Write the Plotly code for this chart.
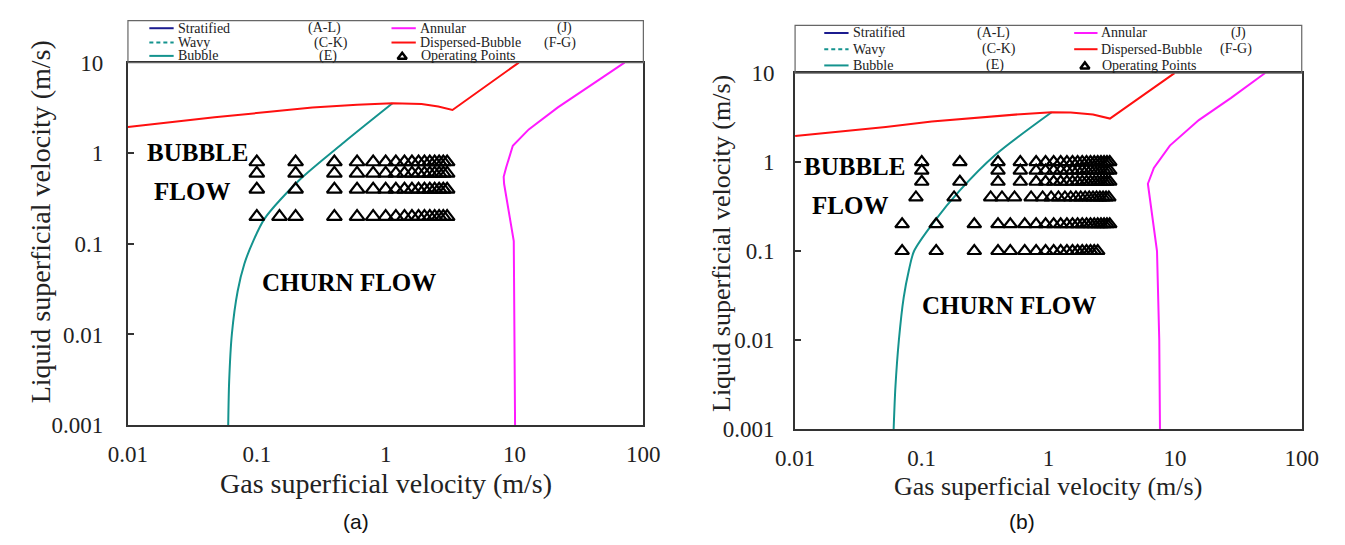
import plotly.graph_objects as go

W, H = 1345, 545
SERIF = "Liberation Serif"

# ---------------- panel (a) ----------------
a_bubble_x = [0.060, 0.061, 0.064, 0.071, 0.080, 0.094, 0.115, 0.212, 0.476, 1.13]
a_bubble_y = [0.001, 0.003, 0.01, 0.03, 0.06, 0.108, 0.19, 0.5, 1.32, 3.55]
a_disp_x = [0.01, 0.047, 0.12, 0.27, 0.6, 1.13, 1.9, 2.56, 3.3, 10.8]
a_disp_y = [1.95, 2.5, 2.84, 3.2, 3.42, 3.55, 3.5, 3.28, 3.0, 10]
a_annular_x = [10.1, 10.0, 9.87, 8.3, 8.24, 8.6, 9.7, 12.9, 21.7, 39, 71.4]
a_annular_y = [0.001, 0.01, 0.107, 0.46, 0.55, 0.69, 1.21, 1.83, 3.2, 5.6, 10]

a_op_rows = [0.8, 0.6, 0.4, 0.2]
a_op_x = [
    [0.1, 0.2, 0.4, 0.6, 0.8, 1.0, 1.2, 1.4, 1.6, 1.8, 2.0, 2.2, 2.4, 2.6, 2.8, 3.0],
    [0.1, 0.2, 0.4, 0.6, 0.8, 1.0, 1.2, 1.4, 1.6, 1.8, 2.0, 2.2, 2.4, 2.6, 2.8, 3.0],
    [0.1, 0.2, 0.4, 0.6, 0.8, 1.0, 1.2, 1.4, 1.6, 1.8, 2.0, 2.2, 2.4, 2.6, 2.8, 3.0],
    [0.1, 0.15, 0.2, 0.4, 0.6, 0.8, 1.0, 1.2, 1.4, 1.6, 1.8, 2.0, 2.2, 2.4, 2.6, 2.8, 3.0],
]

# ---------------- panel (b) ----------------
b_bubble_x = [0.060, 0.062, 0.066, 0.072, 0.079, 0.087, 0.124, 0.2, 0.38, 1.06]
b_bubble_y = [0.001, 0.003, 0.01, 0.03, 0.06, 0.1, 0.21, 0.48, 1.2, 3.63]
b_disp_x = [0.01, 0.052, 0.12, 0.3, 0.6, 1.06, 1.5, 2.25, 3.06, 9.9]
b_disp_y = [1.96, 2.47, 2.85, 3.2, 3.45, 3.63, 3.6, 3.43, 3.08, 10]
b_annular_x = [7.6, 7.5, 7.2, 6.3, 6.1, 6.8, 9.1, 15.4, 27.7, 51.4]
b_annular_y = [0.001, 0.01, 0.1, 0.4, 0.57, 0.86, 1.53, 2.96, 5.26, 10]

b_op_rows = [1.0, 0.8, 0.6, 0.4, 0.2, 0.1]
b_op_x = [
    [0.1, 0.2, 0.4, 0.6, 0.8, 0.95, 1.1, 1.25, 1.4, 1.55, 1.7, 1.85, 2.0, 2.15, 2.3, 2.45, 2.6, 2.75, 2.9, 3.05],
    [0.1, 0.4, 0.6, 0.8, 0.95, 1.1, 1.25, 1.4, 1.55, 1.7, 1.85, 2.0, 2.15, 2.3, 2.45, 2.6, 2.75, 2.9, 3.05],
    [0.1, 0.2, 0.4, 0.6, 0.8, 0.95, 1.1, 1.25, 1.4, 1.55, 1.7, 1.85, 2.0, 2.15, 2.3, 2.45, 2.6, 2.75, 2.9, 3.05],
    [0.09, 0.18, 0.35, 0.43, 0.54, 0.73, 0.9, 1.05, 1.2, 1.35, 1.5, 1.65, 1.8, 1.95, 2.1, 2.25, 2.4, 2.55, 2.7, 2.85, 3.0],
    [0.07, 0.13, 0.26, 0.4, 0.5, 0.65, 0.8, 0.95, 1.1, 1.25, 1.4, 1.55, 1.7, 1.85, 2.0, 2.15, 2.3, 2.45, 2.6, 2.75, 2.9, 3.05],
    [0.07, 0.13, 0.26, 0.4, 0.5, 0.65, 0.8, 0.95, 1.1, 1.25, 1.4, 1.55, 1.7, 1.85, 2.0, 2.15, 2.3, 2.45],
]

# ---------------- shared text ----------------
x_tickvals = [0.01, 0.1, 1, 10, 100]
x_ticktext = ["0.01", "0.1", "1", "10", "100"]
y_tickvals = [0.001, 0.01, 0.1, 1, 10]
y_ticktext = ["0.001", "0.01", "0.1", "1", "10"]
legend_names = ["Stratified", "Wavy", "Bubble", "Annular", "Dispersed-Bubble", "Operating Points"]
legend_codes = ["(A-L)", "(C-K)", "(E)", "(J)", "(F-G)", ""]

C_STRAT = "#1b1b8f"
C_TEAL = "#14938e"
C_MAG = "#ff1aff"
C_RED = "#ff1010"
line_colors = [C_STRAT, C_TEAL, C_TEAL, C_MAG, C_RED]


def flat(rows, xs):
    ox, oy = [], []
    for r, row in zip(rows, xs):
        ox += row
        oy += [r] * len(row)
    return ox, oy


fig = go.Figure()


def add_panel(xa, ya, bx, by, dx, dy, ax_, ay_, rows, opx, msize):
    fig.add_trace(go.Scatter(x=bx, y=by, mode="lines", xaxis=xa, yaxis=ya,
                             line=dict(color=C_TEAL, width=2, shape="spline", smoothing=0.8)))
    fig.add_trace(go.Scatter(x=dx, y=dy, mode="lines", xaxis=xa, yaxis=ya,
                             line=dict(color=C_RED, width=2)))
    fig.add_trace(go.Scatter(x=ax_, y=ay_, mode="lines", xaxis=xa, yaxis=ya,
                             line=dict(color=C_MAG, width=2)))
    ox, oy = flat(rows, opx)
    fig.add_trace(go.Scatter(x=ox, y=oy, mode="markers", xaxis=xa, yaxis=ya,
                             marker=dict(symbol="triangle-up-open", size=msize, color="black",
                                         line=dict(width=2.2, color="black"))))


add_panel("x", "y", a_bubble_x, a_bubble_y, a_disp_x, a_disp_y, a_annular_x, a_annular_y,
          a_op_rows, a_op_x, 13)
add_panel("x2", "y2", b_bubble_x, b_bubble_y, b_disp_x, b_disp_y, b_annular_x, b_annular_y,
          b_op_rows, b_op_x, 12)

# panel geometry in pixels: (left, right, top, bottom)
PA = (111, 641, 53, 433)
PB = (797, 1318, 64, 437)

axis_common = dict(type="log", showline=True, mirror=True, linecolor="#333", linewidth=2,
                   showgrid=False, zeroline=False,
                   tickfont=dict(family=SERIF, size=23, color="#222"))

layout = dict(
    width=W, height=H, autosize=False,
    margin=dict(l=0, r=0, t=0, b=0),
    paper_bgcolor="white", plot_bgcolor="rgba(0,0,0,0)",
    showlegend=False,
)
for suffix, (l, r, t, b), ystand in (("", PA, 18), ("2", PB, 14)):
    layout["xaxis" + suffix] = dict(axis_common, domain=[l / W, r / W], range=[-2, 2],
                                    tickvals=x_tickvals, ticktext=x_ticktext, ticks="",
                                    ticklabelstandoff=7,
                                    anchor="y" + suffix)
    layout["yaxis" + suffix] = dict(axis_common, domain=[1 - b / H, 1 - t / H], range=[-3, 1],
                                    tickvals=y_tickvals, ticktext=y_ticktext, ticks="inside",
                                    ticklen=6, tickwidth=1.5, tickcolor="#333",
                                    ticklabelstandoff=ystand,
                                    anchor="x" + suffix)
# overlay in pixel units for the key boxes and captions
layout["xaxis3"] = dict(domain=[0, 1], range=[0, W], visible=False, anchor="y3")
layout["yaxis3"] = dict(domain=[0, 1], range=[H, 0], visible=False, anchor="x3")
fig.update_layout(**layout)

annotations = []
shapes = []
KEY_FONT = dict(family=SERIF, size=14, color="#222")


def key_text(x, y, text, anchor):
    annotations.append(dict(x=x, y=y, xref="x3", yref="y3", text=text,
                            xanchor=anchor, yanchor="middle", showarrow=False, font=KEY_FONT))


def key_box(box, rows_y, col1, codes1, col2, codes2):
    x0, y0, x1, y1 = box
    shapes.append(dict(type="rect", xref="x3", yref="y3", x0=x0, y0=y0, x1=x1, y1=y1,
                       line=dict(color="#666", width=1.2), layer="below"))
    s0, s1, tx = col1
    for i in range(3):
        fig.add_trace(go.Scatter(x=[s0, s1], y=[rows_y[i]] * 2, mode="lines", xaxis="x3", yaxis="y3",
                                 line=dict(color=line_colors[i], width=2,
                                           dash="4px,3px" if i == 1 else "solid")))
        key_text(tx, rows_y[i], legend_names[i], "left")
        key_text(codes1[i], rows_y[i], legend_codes[i], "center")
    s0, s1, tx, tri_x = col2
    for j in range(2):
        fig.add_trace(go.Scatter(x=[s0, s1], y=[rows_y[j]] * 2, mode="lines", xaxis="x3", yaxis="y3",
                                 line=dict(color=line_colors[3 + j], width=2)))
        key_text(tx, rows_y[j], legend_names[3 + j], "left")
        key_text(codes2[j], rows_y[j], legend_codes[3 + j], "center")
    fig.add_trace(go.Scatter(x=[tri_x], y=[rows_y[2] + 1], mode="markers", xaxis="x3", yaxis="y3",
                             marker=dict(symbol="triangle-up-open", size=8, color="black",
                                         line=dict(width=2.5, color="black"))))
    key_text(tx + 1, rows_y[2], legend_names[5], "left")


key_box((PA[0], 9, PA[1], PA[2]), [17, 32, 46], (133, 158, 160), [313, 320, 317],
        (382, 407, 409, 393), [560, 555])
key_box((PB[0], 14, PB[1], PB[2]), [22, 39, 56], (827, 852, 855), [1001, 1007, 1003],
        (1084, 1108, 1110, 1095), [1253, 1250])


def region_label(text, xref, yref, lx, ly):
    annotations.append(dict(x=lx, y=ly, xref=xref, yref=yref, text="<b>%s</b>" % text,
                            showarrow=False, xanchor="center", yanchor="middle",
                            font=dict(family=SERIF, size=25, color="black")))


region_label("BUBBLE", "x", "y", -1.461, 0.007)
region_label("FLOW", "x", "y", -1.502, -0.421)
region_label("CHURN FLOW", "x", "y", -0.283, -1.421)
region_label("BUBBLE", "x2", "y2", -1.528, -0.048)
region_label("FLOW", "x2", "y2", -1.568, -0.487)
region_label("CHURN FLOW", "x2", "y2", -0.311, -1.617)

# axis titles and panel captions: (x centre, y centre, font size) for each panel
x_title_pos = [(376, 494, 28), (1057, 497, 26)]
y_title_pos = [(22, 220, 28), (722, 243, 26)]
for cx, cy, fs in x_title_pos:
    annotations.append(dict(x=cx, y=cy, xref="x3", yref="y3", text="Gas superficial velocity (m/s)",
                            showarrow=False, xanchor="center", yanchor="middle",
                            font=dict(family=SERIF, size=fs, color="#222")))
for cx, cy, fs in y_title_pos:
    annotations.append(dict(x=cx, y=cy, xref="x3", yref="y3", text="Liquid superficial velocity (m/s)",
                            showarrow=False, xanchor="center", yanchor="middle", textangle=-90,
                            font=dict(family=SERIF, size=fs, color="#222")))
for cx, txt in ((345, "(a)"), (1030, "(b)")):
    annotations.append(dict(x=cx, y=534, xref="x3", yref="y3", text=txt,
                            showarrow=False, xanchor="center", yanchor="middle",
                            font=dict(family="Liberation Sans", size=21, color="#111")))

fig.update_layout(annotations=annotations, shapes=shapes)
fig.write_html("out.html")
